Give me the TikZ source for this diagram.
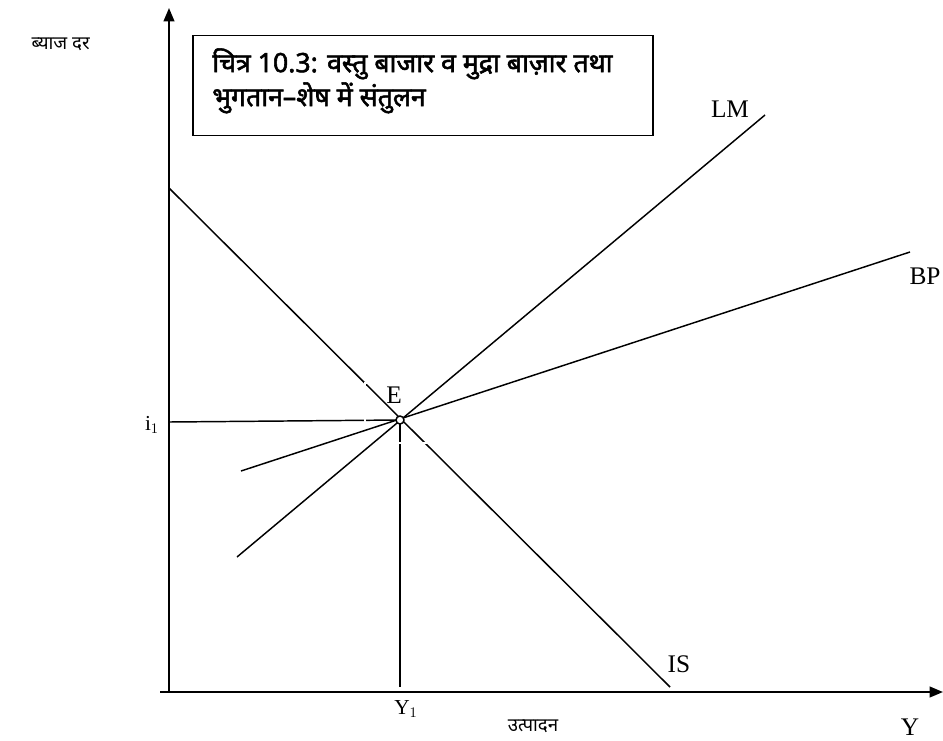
\documentclass[tikz,border=0pt]{standalone}
\usepackage{fontspec}
\setmainfont{Liberation Serif}
\newfontfamily\hindi[Script=Devanagari]{Noto Sans}
\newfontfamily\hindibold[Script=Devanagari, FakeBold=2]{Noto Sans}
\usetikzlibrary{arrows.meta}

\begin{document}
\begin{tikzpicture}[x=0.75pt, y=-0.75pt,
    axis/.style={line width=1.5pt, -{Triangle[length=10pt,width=8pt]}},
    curve/.style={line width=1.1pt},
    lbl/.style={font=\fontsize{19}{21}\selectfont, inner sep=0pt},
    sublbl/.style={font=\fontsize{16}{18}\selectfont, inner sep=0pt},
    hlbl/.style={font=\hindi\fontsize{14}{16}\selectfont, inner sep=0pt}]
    \useasboundingbox (0,0) rectangle (943,740);

    % Axes
    \coordinate (O) at (169,692);
    \coordinate (xstart) at (160,692);
    \coordinate (xend) at (943,692);
    \coordinate (yend) at (169,8);
    \draw[axis] (O) -- (yend);
    \draw[axis] (xstart) -- (xend);
    \node[hlbl, anchor=east] (rate) at (90,44) {ब्याज दर};
    \node[hlbl] (output) at (533,726) {उत्पादन};
    \node[lbl] (Y) at (910,727) {Y};

    % Equilibrium point and guide lines
    \coordinate (E) at (400,420);
    \coordinate (iaxis) at (169,422);
    \coordinate (Yaxis) at (400,687);
    \draw[curve] (iaxis) -- (E);
    \draw[curve] (E) -- (Yaxis);
    \node[sublbl] (i1) at (152,425) {i$_1$};
    \node[sublbl] (Y1) at (406,709) {Y$_1$};

    % IS curve
    \coordinate (IStop) at (169,188);
    \coordinate (ISbot) at (670,687);
    \draw[curve] (IStop) -- (ISbot);
    \node[lbl] (IS) at (679,664) {IS};

    % label box round E (its white edge cuts the lines)
    \node[draw=white, line width=1.5pt, minimum width=46pt, minimum height=45pt,
        inner sep=0pt] (Ebox) at (396,413) {};
    \node[lbl] (Elbl) at (394,395) {E};

    % LM curve
    \coordinate (LMbot) at (237,557);
    \coordinate (LMtop) at (765,115);
    \draw[curve] (LMbot) -- (LMtop);
    \node[lbl] (LM) at (730,109) {LM};

    % BP curve
    \coordinate (BPbot) at (241,471);
    \coordinate (BPtop) at (910,252);
    \draw[curve] (BPbot) -- (BPtop);
    \node[lbl] (BP) at (925,276) {BP};

    \draw[curve, fill=white] (E) circle (4);

    % Title
    \node[draw, line width=1.1pt, minimum width=345pt, minimum height=75pt,
        inner sep=0pt] (box) at (423,85.5) {};
    \node[anchor=north west, align=left, inner sep=0pt,
        font=\hindibold\fontsize{20}{25.5}\selectfont] (title) at (212,48)
        {चित्र 10.3: वस्तु बाजार व मुद्रा बाज़ार तथा\\भुगतान–शेष में संतुलन};
\end{tikzpicture}
\end{document}
